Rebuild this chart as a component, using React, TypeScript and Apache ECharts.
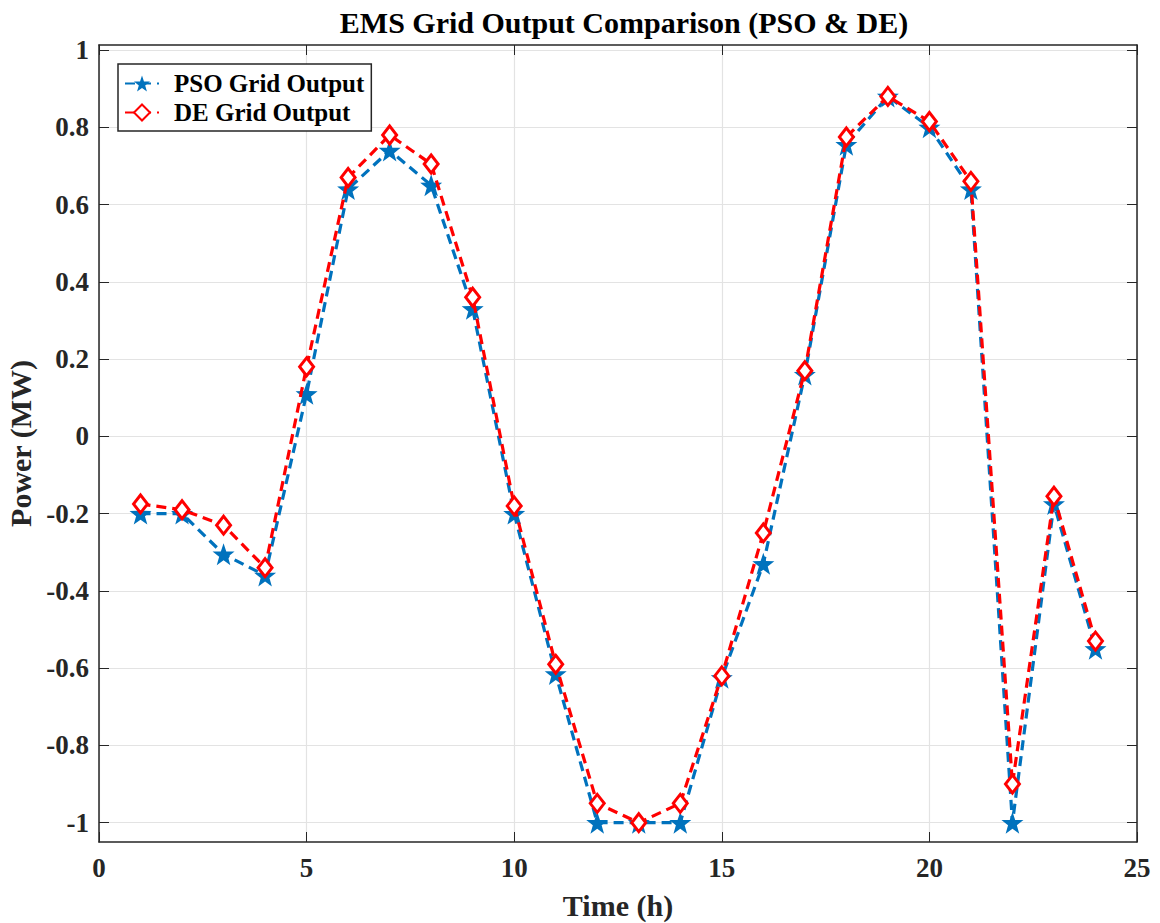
import React, { useEffect, useRef } from "react";
import * as echarts from "echarts";

const hours = [1, 2, 3, 4, 5, 6, 7, 8, 9, 10, 11, 12, 13, 14, 15, 16, 17, 18, 19, 20, 21, 22, 23, 24];
const psoOutput = [-0.2, -0.2, -0.305, -0.36, 0.11, 0.64, 0.74, 0.65, 0.33, -0.2, -0.615, -1, -1, -1, -0.625, -0.33, 0.16, 0.755, 0.88, 0.8, 0.64, -1, -0.175, -0.55];
const deOutput = [-0.175, -0.19, -0.23, -0.34, 0.18, 0.67, 0.78, 0.705, 0.36, -0.18, -0.59, -0.95, -1, -0.95, -0.62, -0.25, 0.17, 0.775, 0.88, 0.815, 0.66, -0.9, -0.155, -0.53];
const yTicks = [-1, -0.8, -0.6, -0.4, -0.2, 0, 0.2, 0.4, 0.6, 0.8, 1];

function starPath(): string {
  const pts: string[] = [];
  const ri = 0.4;
  for (let i = 0; i < 10; i++) {
    const r = i % 2 === 0 ? 1 : ri;
    const a = -Math.PI / 2 + (i * Math.PI) / 5;
    pts.push(`${(r * Math.cos(a)).toFixed(4)} ${(r * Math.sin(a)).toFixed(4)}`);
  }
  return "path://M" + pts.join(" L") + " Z";
}

const FONT = "'Liberation Serif', 'Times New Roman', serif";
const AX = "#262626";

export default function App() {
  const ref = useRef<HTMLDivElement>(null);
  useEffect(() => {
    document.body.style.margin = "0";
    const chart = echarts.init(ref.current!, null, { renderer: "svg" });
    const star = starPath();
    const fmt = (v: number) => {
      const r = Math.round(v * 10) / 10;
      return r === 0 ? "0" : String(r);
    };
    const labelStyle = { fontFamily: FONT, fontWeight: "bold" as const, fontSize: 27, color: AX };
    chart.setOption({
      animation: false,
      backgroundColor: "#ffffff",
      title: {
        text: "EMS Grid Output Comparison (PSO & DE)",
        left: 619,
        textAlign: "center",
        top: 2,
        textStyle: { fontFamily: FONT, fontWeight: "bold", fontSize: 30, color: "#000" },
      },
      legend: {
        orient: "vertical",
        left: 118,
        top: 64,
        padding: [5, 7, 4, 6],
        itemGap: 0,
        itemWidth: 34,
        itemHeight: 20,
        borderColor: AX,
        borderWidth: 1.5,
        backgroundColor: "#fff",
        textStyle: {
          fontFamily: FONT,
          fontWeight: "bold",
          fontSize: 25,
          lineHeight: 29,
          color: "#000",
          padding: [0, 0, 0, 10],
        },
        data: ["PSO Grid Output", "DE Grid Output"],
      },
      grid: { left: 99, top: 45, width: 1038, height: 797, outerBoundsMode: "none", containLabel: false },
      xAxis: [
        {
          type: "value",
          min: 0,
          max: 25,
          interval: 5,
          name: "Time (h)",
          nameLocation: "middle",
          nameGap: 48,
          nameTextStyle: { fontFamily: FONT, fontWeight: "bold", fontSize: 30, color: AX },
          axisLine: { show: true, onZero: false, lineStyle: { color: AX, width: 1.5 } },
          axisTick: { show: true, inside: true, length: 10, lineStyle: { color: AX } },
          axisLabel: { ...labelStyle, margin: 12, formatter: (v: number) => String(v) },
          splitLine: { show: true, lineStyle: { color: "#e3e3e3", width: 1.2 } },
        },
        {
          type: "value",
          position: "top",
          min: 0,
          max: 25,
          interval: 5,
          axisLine: { show: true, onZero: false, lineStyle: { color: AX, width: 1.5 } },
          axisTick: { show: true, inside: true, length: 10, lineStyle: { color: AX } },
          axisLabel: { show: false },
          splitLine: { show: false },
        },
      ],
      yAxis: [
        {
          type: "value",
          min: -1.05,
          max: 1.013,
          name: "Power (MW)",
          nameLocation: "middle",
          nameGap: 54,
          nameTextStyle: { fontFamily: FONT, fontWeight: "bold", fontSize: 30, color: AX },
          axisLine: { show: true, onZero: false, lineStyle: { color: AX, width: 1.5 } },
          axisTick: { show: true, inside: true, length: 10, customValues: yTicks, lineStyle: { color: AX } },
          axisLabel: { ...labelStyle, margin: 10, customValues: yTicks, formatter: fmt },
          splitLine: { show: true, lineStyle: { color: "#e3e3e3", width: 1.2 } },
        },
        {
          type: "value",
          position: "right",
          min: -1.05,
          max: 1.013,
          axisLine: { show: true, onZero: false, lineStyle: { color: AX, width: 1.5 } },
          axisTick: { show: true, inside: true, length: 10, customValues: yTicks, lineStyle: { color: AX } },
          axisLabel: { show: false, customValues: yTicks },
          splitLine: { show: false },
        },
      ],
      series: [
        {
          name: "PSO Grid Output",
          type: "line",
          data: hours.map((h, i) => [h, psoOutput[i]]),
          symbol: star,
          symbolSize: 22,
          itemStyle: { color: "#0072BD" },
          lineStyle: { color: "#0072BD", width: 3.2, type: [10, 6] },
          z: 2,
        },
        {
          name: "DE Grid Output",
          type: "line",
          data: hours.map((h, i) => [h, deOutput[i]]),
          symbol: "diamond",
          symbolSize: [14, 18],
          itemStyle: { color: "#ffffff", borderColor: "#FF0000", borderWidth: 3 },
          lineStyle: { color: "#FF0000", width: 3.2, type: [10, 6] },
          z: 3,
        },
      ],
    });
    return () => chart.dispose();
  }, []);
  return <div ref={ref} style={{ width: 1160, height: 923 }} />;
}
